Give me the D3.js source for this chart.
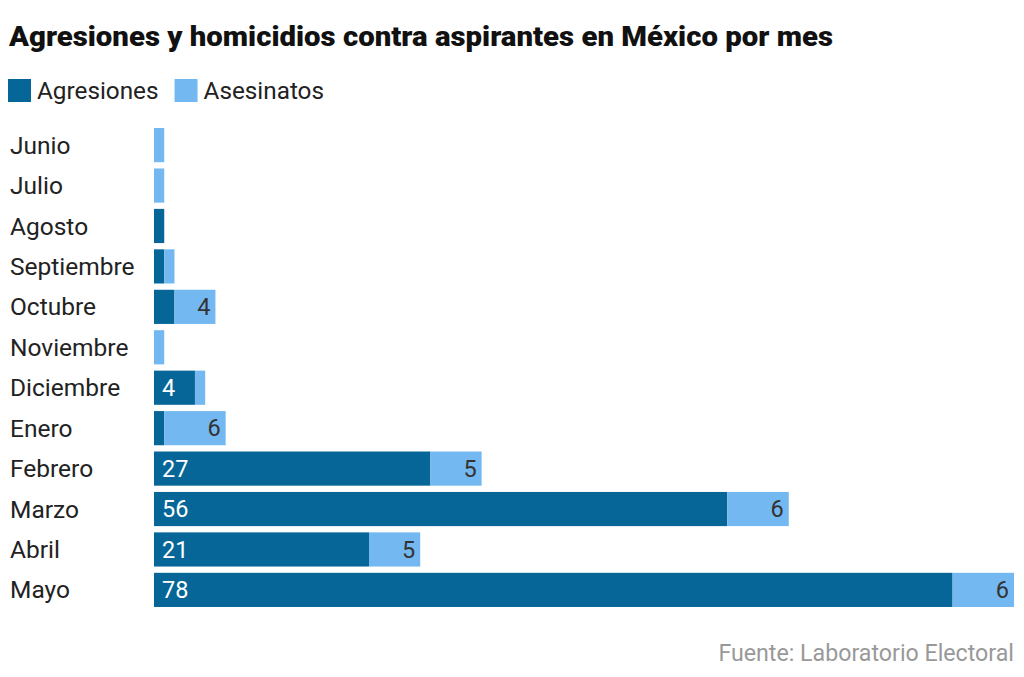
<!DOCTYPE html>
<html>
<head>
<meta charset="utf-8">
<script src="https://cdn.jsdelivr.net/npm/d3@7"></script>
<style>
  body { margin: 0; background: #fff; }
  svg text { font-family: Roboto, "Liberation Sans", sans-serif; }
</style>
</head>
<body>
<svg id="chart" width="1024" height="677"></svg>
<script>
const meses = ["Junio", "Julio", "Agosto", "Septiembre", "Octubre", "Noviembre", "Diciembre", "Enero", "Febrero", "Marzo", "Abril", "Mayo"];
const agresiones = [0, 0, 1, 1, 2, 0, 4, 1, 27, 56, 21, 78];
const asesinatos = [1, 1, 0, 1, 4, 1, 1, 6, 5, 6, 5, 6];
const series = ["Agresiones", "Asesinatos"];
const colores = ["#066698", "#73b8f0"];

const svg = d3.select("#chart");
const margin = {left: 154, right: 10, top: 126, bottom: 68};
const W = 1024, H = 677;

const rows = meses.map((m, i) => ({mes: m, a: agresiones[i], s: asesinatos[i]}));

const x = d3.scaleLinear()
    .domain([0, d3.max(rows, d => d.a + d.s)])
    .range([margin.left, W - margin.right]);

const y = d3.scaleBand()
    .domain(meses)
    .range([margin.top, 609])
    .paddingInner(0.155)
    .paddingOuter(0.05);

// title
svg.append("text")
    .attr("x", 9).attr("y", 46)
    .attr("font-size", 28).attr("font-weight", 900)
    .attr("fill", "#111")
    .attr("textLength", 824)
    .attr("lengthAdjust", "spacingAndGlyphs")
    .text("Agresiones y homicidios contra aspirantes en México por mes");

// legend
const leg = svg.append("g").attr("transform", "translate(8,79)");
let lx = 0;
series.forEach((s, i) => {
  leg.append("rect").attr("x", lx).attr("y", 0).attr("width", 23).attr("height", 23).attr("fill", colores[i]);
  const t = leg.append("text").attr("x", lx + 29).attr("y", 20)
      .attr("font-size", 24.3).attr("fill", "#222").text(s);
  lx += 29 + t.node().getComputedTextLength() + 16;
});

// month labels
svg.append("g").selectAll("text")
  .data(rows).join("text")
    .attr("x", 10)
    .attr("y", d => y(d.mes) + y.bandwidth() / 2)
    .attr("dy", "0.35em")
    .attr("font-size", 24.5).attr("fill", "#222")
    .text(d => d.mes);

const bars = svg.append("g");
bars.selectAll("rect.a")
  .data(rows.filter(d => d.a > 0)).join("rect")
    .attr("class", "a")
    .attr("x", x(0))
    .attr("y", d => y(d.mes))
    .attr("width", d => x(d.a) - x(0))
    .attr("height", y.bandwidth())
    .attr("fill", colores[0]);

bars.selectAll("rect.s")
  .data(rows.filter(d => d.s > 0)).join("rect")
    .attr("class", "s")
    .attr("x", d => x(d.a))
    .attr("y", d => y(d.mes))
    .attr("width", d => x(d.a + d.s) - x(d.a))
    .attr("height", y.bandwidth())
    .attr("fill", colores[1]);

// value labels
const labels = svg.append("g").attr("font-size", 23.5);
labels.selectAll("text.a")
  .data(rows.filter(d => d.a >= 4)).join("text")
    .attr("x", x(0) + 8)
    .attr("y", d => y(d.mes) + y.bandwidth() / 2)
    .attr("dy", "0.35em")
    .attr("fill", "#fff")
    .text(d => d.a);

labels.selectAll("text.s")
  .data(rows.filter(d => d.s >= 4)).join("text")
    .attr("x", d => x(d.a + d.s) - 5)
    .attr("y", d => y(d.mes) + y.bandwidth() / 2)
    .attr("dy", "0.35em")
    .attr("text-anchor", "end")
    .attr("fill", "#333")
    .text(d => d.s);

// source
svg.append("text")
    .attr("x", W - 10).attr("y", 661)
    .attr("text-anchor", "end")
    .attr("font-size", 23.2).attr("fill", "#999")
    .text("Fuente: Laboratorio Electoral");
</script>
</body>
</html>
